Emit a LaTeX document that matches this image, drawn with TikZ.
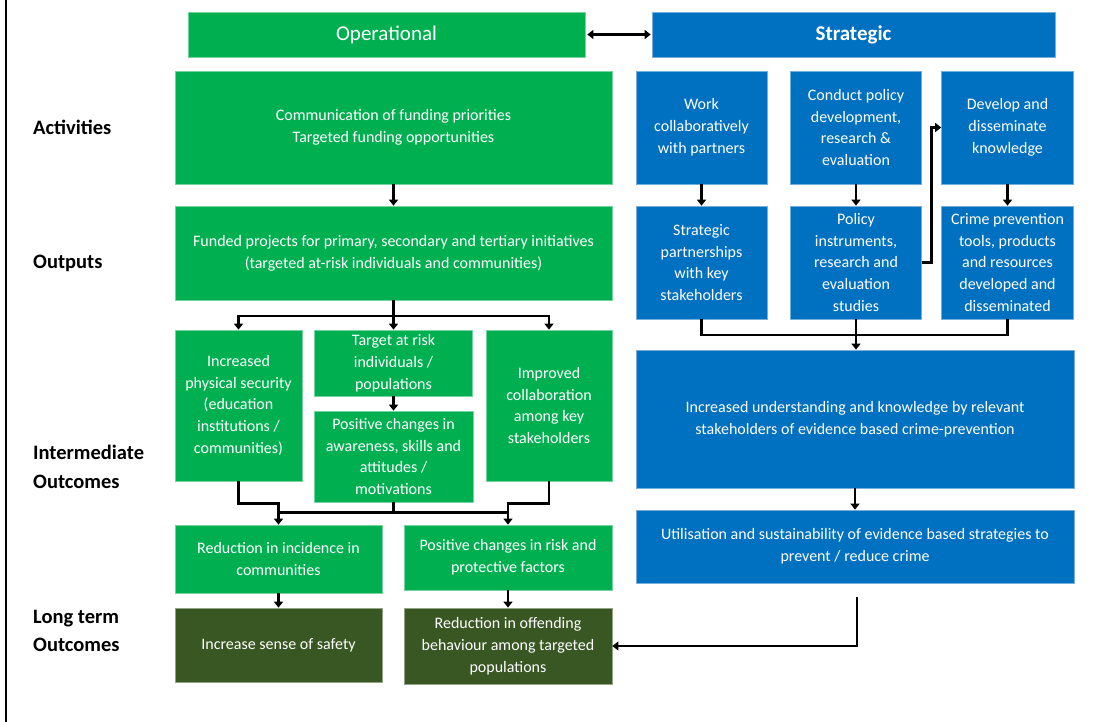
\documentclass[tikz,border=0pt]{standalone}
\usepackage{fontspec}
\setmainfont{Carlito}
\usepackage{tikz}
\usetikzlibrary{arrows.meta, positioning, calc}
\definecolor{OpGreen}{RGB}{0,176,80}
\definecolor{StratBlue}{RGB}{0,112,192}
\definecolor{LongGreen}{RGB}{56,87,35}

\begin{document}
\begin{tikzpicture}[
    x=1pt, y=-1pt,
    box/.style={rectangle, fill=#1, draw=#1!55!white, line width=0.7pt,
                text=white, align=center, inner sep=2pt,
                font=\fontsize{16}{21.8}\selectfont},
    header/.style={box=#1, font=\fontsize{21}{24}\selectfont},
    rowlabel/.style={anchor=west, inner sep=0pt, align=left,
                     font=\fontsize{20.5}{28.5}\selectfont\bfseries},
    line/.style={line width=2.8pt, black},
    arrow/.style={line, -{Triangle[length=6pt, width=9pt]}},
    dblarrow/.style={line, {Triangle[length=6pt, width=9pt]}-{Triangle[length=6pt, width=9pt]}}
]
\useasboundingbox (0,0) rectangle (1105,722);
\draw[line width=2pt] (5.5,0) -- (5.5,722);

% row labels
\node[rowlabel] (lblact) at (33,127) {Activities};
\node[rowlabel] (lblout) at (33,263) {Outputs};
\node[rowlabel] (lblint) at (33,467) {Intermediate\\Outcomes};
\node[rowlabel] (lbllong) at (33,631) {Long term\\Outcomes};

% headers
\node[header=OpGreen, minimum width=397pt, minimum height=45pt] (oper) at (386.5,34.5) {Operational};
\node[header=StratBlue, minimum width=403pt, minimum height=45pt] (strat) at (853.5,34.5) {\textbf{Strategic}};
\draw[dblarrow, shorten <=2pt, shorten >=1pt] (oper) -- (strat);

% operational side
\node[box=OpGreen, minimum width=437pt, minimum height=113pt] (act) at (393.5,127.5)
    {Communication of funding priorities\\Targeted funding opportunities};
\node[box=OpGreen, minimum width=437pt, minimum height=94pt] (outp) at (393.5,253)
    {Funded projects for primary, secondary and tertiary initiatives\\(targeted at-risk individuals and communities)};

\node[box=OpGreen, minimum width=127pt, minimum height=151pt] (phys) at (238.5,405.5)
    {Increased\\physical security\\(education\\institutions /\\communities)};
\node[box=OpGreen, minimum width=158pt, minimum height=66pt] (target) at (393.5,363)
    {Target at risk\\individuals /\\populations};
\node[box=OpGreen, minimum width=159pt, minimum height=91pt] (aware) at (393.5,456.5)
    {Positive changes in\\awareness, skills and\\attitudes /\\motivations};
\node[box=OpGreen, minimum width=126pt, minimum height=151pt] (collab) at (549,405.5)
    {Improved\\collaboration\\among key\\stakeholders};

\node[box=OpGreen, minimum width=207pt, minimum height=68pt] (redinc) at (278.5,559)
    {Reduction in incidence in\\communities};
\node[box=OpGreen, minimum width=208pt, minimum height=65pt] (posrisk) at (508,557.5)
    {Positive changes in risk and\\protective factors};

\node[box=LongGreen, minimum width=207pt, minimum height=74pt] (safety) at (278.5,645)
    {Increase sense of safety};
\node[box=LongGreen, minimum width=208pt, minimum height=76pt] (offend) at (508,646)
    {Reduction in offending\\behaviour among targeted\\populations};

% strategic side
\node[box=StratBlue, minimum width=131pt, minimum height=113pt] (work) at (701.5,127.5)
    {Work\\collaboratively\\with partners};
\node[box=StratBlue, minimum width=131pt, minimum height=113pt] (policy) at (856,127.5)
    {Conduct policy\\development,\\research \&\\evaluation};
\node[box=StratBlue, minimum width=132pt, minimum height=113pt] (develop) at (1007.5,127.5)
    {Develop and\\disseminate\\knowledge};

\node[box=StratBlue, minimum width=131pt, minimum height=113pt] (partner) at (701.5,262.5)
    {Strategic\\partnerships\\with key\\stakeholders};
\node[box=StratBlue, minimum width=131pt, minimum height=113pt] (instr) at (856,262.5)
    {Policy\\instruments,\\research and\\evaluation\\studies};
\node[box=StratBlue, minimum width=132pt, minimum height=113pt] (tools) at (1007.5,262.5)
    {Crime prevention\\tools, products\\and resources\\developed and\\disseminated};

\node[box=StratBlue, minimum width=438pt, minimum height=138pt] (underst) at (855,419)
    {Increased understanding and knowledge by relevant\\stakeholders of evidence based crime-prevention};
\node[box=StratBlue, minimum width=438pt, minimum height=73pt] (util) at (855,546.5)
    {Utilisation and sustainability of evidence based strategies to\\prevent / reduce crime};

% operational connectors
\draw[arrow] (act) -- (outp);
\coordinate (split) at (393.5,316);
\draw[line] (outp.south) -- (split);
\draw[arrow] (split) -| (phys.north);
\draw[arrow] (split) -| (collab.north);
\draw[arrow] (split) -- (target.north);
\draw[arrow] (target) -- (aware);
\draw[arrow] (phys.south) -- ++(0,22) -| (redinc.north);
\draw[arrow] (collab.south) -- ++(0,22) -| (posrisk.north);
\draw[line] (aware.south) -- ++(0,10) coordinate (join);
\draw[line] (redinc.north |- join) -- (posrisk.north |- join);
\draw[arrow] (redinc) -- (safety);
\draw[arrow] (posrisk) -- (offend);

% strategic connectors
\draw[arrow] (work) -- (partner);
\draw[arrow] (policy) -- (instr);
\draw[arrow] (develop) -- (tools);
\draw[arrow] (instr.east) -- ++(10,0) |- (develop.west);
\coordinate (merge) at (856,335);
\draw[line] (partner.south) |- (merge) -| (tools.south);
\draw[arrow] (instr.south) -- (instr.south |- underst.north);
\draw[arrow] (underst) -- (util);
\coordinate (utilout) at (857,597);
\draw[arrow] (utilout) |- (offend.east);
\end{tikzpicture}
\end{document}
